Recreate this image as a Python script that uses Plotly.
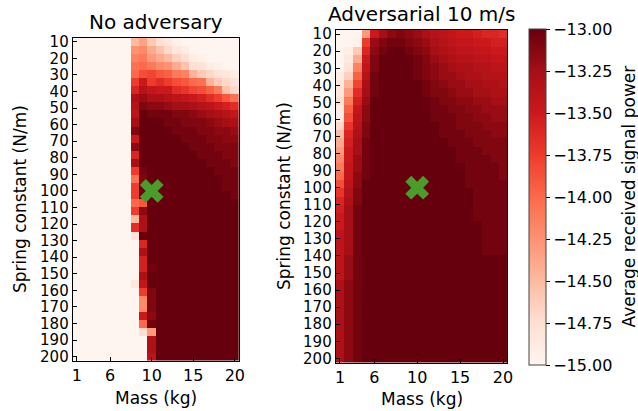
import numpy as np
import plotly.graph_objects as go

# ---------------- data ----------------
mass_kg = list(range(1, 21))                      # 20 columns
spring_constants = np.linspace(10, 200, 40)       # 40 rows (N/m)
x_tick_pos = [1, 5, 10, 15, 20]
x_tick_text = ["1", "6", "10", "15", "20"]
y_tick_vals = list(range(10, 201, 10))
cbar_tick_vals = [-15.0, -14.75, -14.5, -14.25, -14.0, -13.75, -13.5, -13.25, -13.0]
cbar_tick_text = ["\u221215.00", "\u221214.75", "\u221214.50", "\u221214.25", "\u221214.00",
                  "\u221213.75", "\u221213.50", "\u221213.25", "\u221213.00"]
best_mass = [10]
best_spring = [100]

W = -15.0  # shorthand for the floor value
D = -13.0  # shorthand for the ceiling value
power_no_adversary = [
    [W, W, W, W, W, W, W, -14.5, -14.35, -14.6, -14.75, -14.85, -14.95, W, W, W, W, W, W, W],
    [W, W, W, W, W, W, W, -14.25, -14.2, -14.4, -14.55, -14.7, -14.85, -14.9, W, W, W, W, W, W],
    [W, W, W, W, W, W, W, -14.15, -14.1, -14.3, -14.4, -14.5, -14.65, -14.75, -14.9, -14.95, W, W, W, W],
    [W, W, W, W, W, W, W, -14.05, -14.0, -14.1, -14.2, -14.25, -14.4, -14.55, -14.75, -14.8, -14.9, -14.95, W, W],
    [W, W, W, W, W, W, W, -14.0, -13.85, -13.8, -13.9, -13.95, -14.1, -14.15, -14.45, -14.6, -14.7, -14.8, -14.85, -14.9],
    [W, W, W, W, W, W, W, -13.75, -13.5, -13.75, -13.65, -13.75, -13.85, -13.9, -14.0, -14.05, -14.45, -14.6, -14.7, -14.8],
    [W, W, W, W, W, W, W, -13.6, -13.35, -13.45, -13.5, -13.5, -13.65, -13.7, -13.8, -13.85, -13.95, -14.1, -14.55, -14.7],
    [W, W, W, W, W, W, W, -13.3, -13.2, -13.3, -13.3, -13.35, -13.4, -13.45, -13.5, -13.55, -13.65, -13.75, -13.9, -14.05],
    [W, W, W, W, W, W, W, -13.35, -13.1, -13.15, -13.15, -13.2, -13.25, -13.25, -13.3, -13.35, -13.4, -13.5, -13.55, -13.65],
    [W, W, W, W, W, W, W, -13.4, D, -13.05, -13.05, -13.05, -13.1, -13.1, -13.15, -13.2, -13.25, -13.3, -13.35, -13.45],
    [W, W, W, W, W, W, W, -13.25, D, D, D, -13.05, -13.05, -13.1, -13.1, -13.1, -13.15, -13.2, -13.25, -13.3],
    [W, W, W, W, W, W, W, -13.1, D, D, D, D, -13.05, -13.05, -13.05, -13.1, -13.1, -13.15, -13.15, -13.2],
    [W, W, W, W, W, W, W, -13.5, D, D, D, D, D, -13.05, -13.05, -13.05, -13.1, -13.1, -13.15, -13.15],
    [W, W, W, W, W, W, W, -13.15, D, D, D, D, D, D, -13.05, -13.05, -13.05, -13.1, -13.1, -13.1],
    [W, W, W, W, W, W, W, -13.6, D, D, D, D, D, D, D, -13.05, -13.05, -13.05, -13.1, -13.1],
    [W, W, W, W, W, W, W, -13.25, D, D, D, D, D, D, D, D, -13.05, -13.05, -13.05, -13.1],
    [W, W, W, W, W, W, W, -13.75, -13.05, D, D, D, D, D, D, D, D, -13.05, -13.05, -13.05],
    [W, W, W, W, W, W, W, -14.05, -13.1, D, D, D, D, D, D, D, D, D, -13.05, -13.05],
    [W, W, W, W, W, W, W, -13.75, D, D, D, D, D, D, D, D, D, D, -13.05, -13.05],
    [W, W, W, W, W, W, W, -13.75, D, D, D, D, D, D, D, D, D, D, D, -13.05],
    [W, W, W, W, W, W, W, -14.0, -13.9, D, D, D, D, D, D, D, D, D, D, D],
    [W, W, W, W, W, W, W, -13.75, -13.15, D, D, D, D, D, D, D, D, D, D, D],
    [W, W, W, W, W, W, W, -14.5, -13.3, D, D, D, D, D, D, D, D, D, D, D],
    [W, W, W, W, W, W, W, -13.65, -13.3, D, D, D, D, D, D, D, D, D, D, D],
    [W, W, W, W, W, W, W, -14.8, D, D, D, D, D, D, D, D, D, D, D, D],
    [W, W, W, W, W, W, W, W, -13.6, D, D, D, D, D, D, D, D, D, D, D],
    [W, W, W, W, W, W, W, W, -13.3, D, D, D, D, D, D, D, D, D, D, D],
    [W, W, W, W, W, W, W, W, -13.55, D, D, D, D, D, D, D, D, D, D, D],
    [W, W, W, W, W, W, W, W, -13.55, -13.05, D, D, D, D, D, D, D, D, D, D],
    [W, W, W, W, W, W, W, W, -13.3, D, D, D, D, D, D, D, D, D, D, D],
    [W, W, W, W, W, W, W, -14.85, -13.45, D, D, D, D, D, D, D, D, D, D, D],
    [W, W, W, W, W, W, W, W, -13.75, -13.1, D, D, D, D, D, D, D, D, D, D],
    [W, W, W, W, W, W, W, W, -14.2, -13.1, D, D, D, D, D, D, D, D, D, D],
    [W, W, W, W, W, W, W, W, -14.2, -13.1, D, D, D, D, D, D, D, D, D, D],
    [W, W, W, W, W, W, W, W, -13.5, -13.15, D, D, D, D, D, D, D, D, D, D],
    [W, W, W, W, W, W, W, W, -14.0, -13.05, D, D, D, D, D, D, D, D, D, D],
    [W, W, W, W, W, W, W, W, -14.75, -14.3, D, D, D, D, D, D, D, D, D, D],
    [W, W, W, W, W, W, W, W, W, -13.3, D, D, D, D, D, D, D, D, D, D],
    [W, W, W, W, W, W, W, W, W, -13.3, D, D, D, D, D, D, D, D, D, D],
    [W, W, W, W, W, W, W, W, W, -13.4, D, D, D, D, D, D, D, D, D, D],
]

power_adversarial = [
    [W, W, W, -14.3, -13.5, -13.25, -13.15, -13.1, -13.15, -13.2, -13.3, -13.35, -13.4, -13.45, -13.5, -13.5, -13.55, -13.6, -13.6, -13.65],
    [W, W, -14.95, -13.75, -13.2, -13.1, -13.05, -13.05, -13.1, -13.15, -13.2, -13.3, -13.35, -13.4, -13.45, -13.45, -13.5, -13.5, -13.55, -13.55],
    [W, -14.9, -14.6, -13.6, -13.15, -13.05, D, D, -13.05, -13.1, -13.15, -13.25, -13.3, -13.35, -13.4, -13.4, -13.45, -13.45, -13.5, -13.5],
    [W, -14.85, -14.4, -13.5, -13.1, D, D, D, D, -13.05, -13.1, -13.2, -13.25, -13.3, -13.35, -13.35, -13.4, -13.4, -13.45, -13.45],
    [W, -14.8, -14.15, -13.45, -13.1, D, D, D, D, -13.05, -13.1, -13.15, -13.2, -13.25, -13.3, -13.3, -13.35, -13.35, -13.4, -13.4],
    [-14.9, -14.65, -13.95, -13.35, -13.05, D, D, D, D, -13.05, -13.1, -13.15, -13.2, -13.2, -13.25, -13.3, -13.3, -13.35, -13.35, -13.35],
    [-14.85, -14.45, -13.8, -13.3, -13.05, D, D, D, D, D, -13.05, -13.1, -13.15, -13.2, -13.2, -13.25, -13.25, -13.3, -13.3, -13.35],
    [-14.85, -14.3, -13.65, -13.25, -13.05, D, D, D, D, D, -13.05, -13.1, -13.1, -13.15, -13.2, -13.2, -13.25, -13.25, -13.3, -13.3],
    [-14.75, -14.1, -13.55, -13.2, D, D, D, D, D, D, D, -13.05, -13.1, -13.1, -13.15, -13.15, -13.2, -13.2, -13.25, -13.25],
    [-14.9, -13.95, -13.45, -13.15, D, D, D, D, D, D, D, -13.05, -13.05, -13.1, -13.1, -13.15, -13.15, -13.2, -13.2, -13.2],
    [-14.9, -13.85, -13.4, -13.15, D, D, D, D, D, D, D, -13.05, -13.05, -13.05, -13.1, -13.1, -13.15, -13.15, -13.2, -13.2],
    [-14.7, -13.7, -13.35, -13.1, D, D, D, D, D, D, D, D, -13.05, -13.05, -13.1, -13.1, -13.1, -13.15, -13.15, -13.15],
    [-14.5, -13.6, -13.3, -13.1, D, D, D, D, D, D, D, D, -13.05, -13.05, -13.05, -13.1, -13.1, -13.1, -13.15, -13.15],
    [-14.4, -13.55, -13.25, -13.05, D, D, D, D, D, D, D, D, D, -13.05, -13.05, -13.05, -13.1, -13.1, -13.1, -13.1],
    [-14.3, -13.5, -13.25, -13.05, D, D, D, D, D, D, D, D, D, D, -13.05, -13.05, -13.05, -13.1, -13.1, -13.1],
    [-14.2, -13.5, -13.2, -13.05, D, D, D, D, D, D, D, D, D, D, -13.05, -13.05, -13.05, -13.05, -13.1, -13.1],
    [-14.1, -13.45, -13.2, -13.05, D, D, D, D, D, D, D, D, D, D, D, -13.05, -13.05, -13.05, -13.05, -13.1],
    [-14.0, -13.45, -13.15, -13.05, D, D, D, D, D, D, D, D, D, D, D, -13.05, -13.05, -13.05, -13.05, -13.1],
    [-13.85, -13.4, -13.15, D, D, D, D, D, D, D, D, D, D, D, D, -13.05, -13.05, -13.05, -13.05, -13.05],
    [-13.7, -13.35, -13.1, D, D, D, D, D, D, D, D, D, D, D, D, D, -13.05, -13.05, -13.05, -13.05],
    [-13.6, -13.3, -13.1, D, D, D, D, D, D, D, D, D, D, D, D, D, -13.05, -13.05, -13.05, -13.05],
    [-13.55, -13.25, -13.05, D, D, D, D, D, D, D, D, D, D, D, D, D, -13.05, -13.05, -13.05, -13.05],
    [-13.5, -13.25, -13.05, D, D, D, D, D, D, D, D, D, D, D, D, D, -13.05, -13.05, -13.05, -13.05],
    [-13.5, -13.25, -13.05, D, D, D, D, D, D, D, D, D, D, D, D, D, D, -13.05, -13.05, -13.05],
    [-13.4, -13.25, -13.05, D, D, D, D, D, D, D, D, D, D, D, D, D, D, -13.05, -13.05, -13.05],
    [-13.4, -13.25, -13.05, D, D, D, D, D, D, D, D, D, D, D, D, D, D, -13.05, -13.05, -13.05],
    [-13.4, -13.25, -13.05, D, D, D, D, D, D, D, D, D, D, D, D, D, D, -13.05, -13.05, -13.05],
    [-13.4, -13.2, -13.05, D, D, D, D, D, D, D, D, D, D, D, D, D, D, D, D, D],
    [-13.4, -13.2, -13.05, D, D, D, D, D, D, D, D, D, D, D, D, D, D, D, D, D],
    [-13.4, -13.2, -13.05, D, D, D, D, D, D, D, D, D, D, D, D, D, D, D, D, D],
    [-13.3, -13.15, -13.05, D, D, D, D, D, D, D, D, D, D, D, D, D, D, D, D, D],
    [-13.3, -13.15, -13.05, D, D, D, D, D, D, D, D, D, D, D, D, D, D, D, D, D],
    [-13.3, -13.15, -13.05, D, D, D, D, D, D, D, D, D, D, D, D, D, D, D, D, D],
    [-13.3, -13.15, -13.05, D, D, D, D, D, D, D, D, D, D, D, D, D, D, D, D, D],
    [-13.3, -13.15, -13.05, D, D, D, D, D, D, D, D, D, D, D, D, D, D, D, D, D],
    [-13.3, -13.15, -13.05, D, D, D, D, D, D, D, D, D, D, D, D, D, D, D, D, D],
    [-13.3, -13.15, -13.05, D, D, D, D, D, D, D, D, D, D, D, D, D, D, D, D, D],
    [-13.3, -13.15, -13.05, D, D, D, D, D, D, D, D, D, D, D, D, D, D, D, D, D],
    [-13.3, -13.15, -13.05, D, D, D, D, D, D, D, D, D, D, D, D, D, D, D, D, D],
    [-13.3, -13.15, -13.05, D, D, D, D, D, D, D, D, D, D, D, D, D, D, D, D, D],
]

# ---------------- style ----------------
W_PX, H_PX = 638, 411
FONT = "DejaVu Sans"
reds = [[0.0, "#fff5f0"], [0.125, "#fee0d2"], [0.25, "#fcbba1"], [0.375, "#fc9272"],
        [0.5, "#fb6a4a"], [0.625, "#ef3b2c"], [0.75, "#cb181d"], [0.875, "#a50f15"],
        [1.0, "#67000d"]]


def px_x(p):
    return p / W_PX


def px_y(p):
    return 1 - p / H_PX


fig = go.Figure()
for z, ax in [(power_no_adversary, ""), (power_adversarial, "2")]:
    fig.add_trace(go.Heatmap(z=z, x=mass_kg, y=spring_constants, coloraxis="coloraxis",
                             xaxis="x" + ax, yaxis="y" + ax, zsmooth=False))
    fig.add_trace(go.Scatter(x=best_mass, y=best_spring, mode="markers", xaxis="x" + ax,
                             yaxis="y" + ax, showlegend=False,
                             marker=dict(symbol="x", size=21, color="#4a9c2b",
                                         line=dict(width=0))))

half_dx = 0.5
half_dy = (spring_constants[1] - spring_constants[0]) / 2
xr = [mass_kg[0] - half_dx, mass_kg[-1] + half_dx]
yr = [spring_constants[-1] + half_dy, spring_constants[0] - half_dy]

axis_common = dict(showline=True, mirror=True, linecolor="black", linewidth=1,
                   ticks="inside", ticklen=4, tickcolor="black", tickwidth=1,
                   showgrid=False, zeroline=False, automargin=False)
xfont = dict(family=FONT, size=16, color="black")
yfont = dict(family=FONT, size=15, color="black")

fig.update_layout(
    width=W_PX, height=H_PX,
    margin=dict(l=0, r=0, t=0, b=0, autoexpand=False),
    paper_bgcolor="white", plot_bgcolor="white",
    font=dict(family=FONT, color="black"),
    showlegend=False,
    xaxis=dict(domain=[px_x(72.7), px_x(239)], range=xr, anchor="y",
               tickvals=x_tick_pos, ticktext=x_tick_text, tickfont=xfont, **axis_common),
    yaxis=dict(domain=[px_y(360.7), px_y(37.7)], range=yr, anchor="x",
               tickvals=y_tick_vals, tickfont=yfont, **axis_common),
    xaxis2=dict(domain=[px_x(335.7), px_x(507.3)], range=xr, anchor="y2",
                tickvals=x_tick_pos, ticktext=x_tick_text, tickfont=xfont, **axis_common),
    yaxis2=dict(domain=[px_y(362.5), px_y(30)], range=yr, anchor="x2",
                tickvals=y_tick_vals, tickfont=yfont, **axis_common),
    coloraxis=dict(
        colorscale=reds, cmin=-15, cmax=-13,
        colorbar=dict(
            x=px_x(529.3), xanchor="left", xpad=0,
            y=px_y(197.2), yanchor="middle", ypad=0,
            len=335.7, lenmode="pixels",
            thickness=17.4, thicknessmode="pixels",
            outlinewidth=1, outlinecolor="#444444",
            ticks="outside", ticklen=4, tickcolor="black",
            tickvals=cbar_tick_vals, ticktext=cbar_tick_text,
            tickfont=dict(family=FONT, size=16, color="black"),
        ),
    ),
)

ann = [
    dict(text="No adversary", x=px_x(155.9), y=px_y(21.7), size=20, angle=0),
    dict(text="Adversarial 10 m/s", x=px_x(421.5), y=px_y(14), size=20, angle=0),
    dict(text="Mass (kg)", x=px_x(155.9), y=px_y(398), size=17, angle=0),
    dict(text="Mass (kg)", x=px_x(421.5), y=px_y(399), size=17, angle=0),
    dict(text="Spring constant (N/m)", x=px_x(20), y=px_y(199), size=17, angle=-90),
    dict(text="Spring constant (N/m)", x=px_x(284), y=px_y(196), size=17, angle=-90),
    dict(text="Average received signal power", x=px_x(628), y=px_y(196.5), size=17, angle=-90),
]
for a in ann:
    fig.add_annotation(text=a["text"], x=a["x"], y=a["y"], xref="paper", yref="paper",
                       xanchor="center", yanchor="middle", showarrow=False,
                       textangle=a["angle"],
                       font=dict(family=FONT, size=a["size"], color="black"))

fig.write_html("out.html",
               config={"displayModeBar": False},
               post_script="document.body.style.margin='0px';document.body.style.padding='0px';")
